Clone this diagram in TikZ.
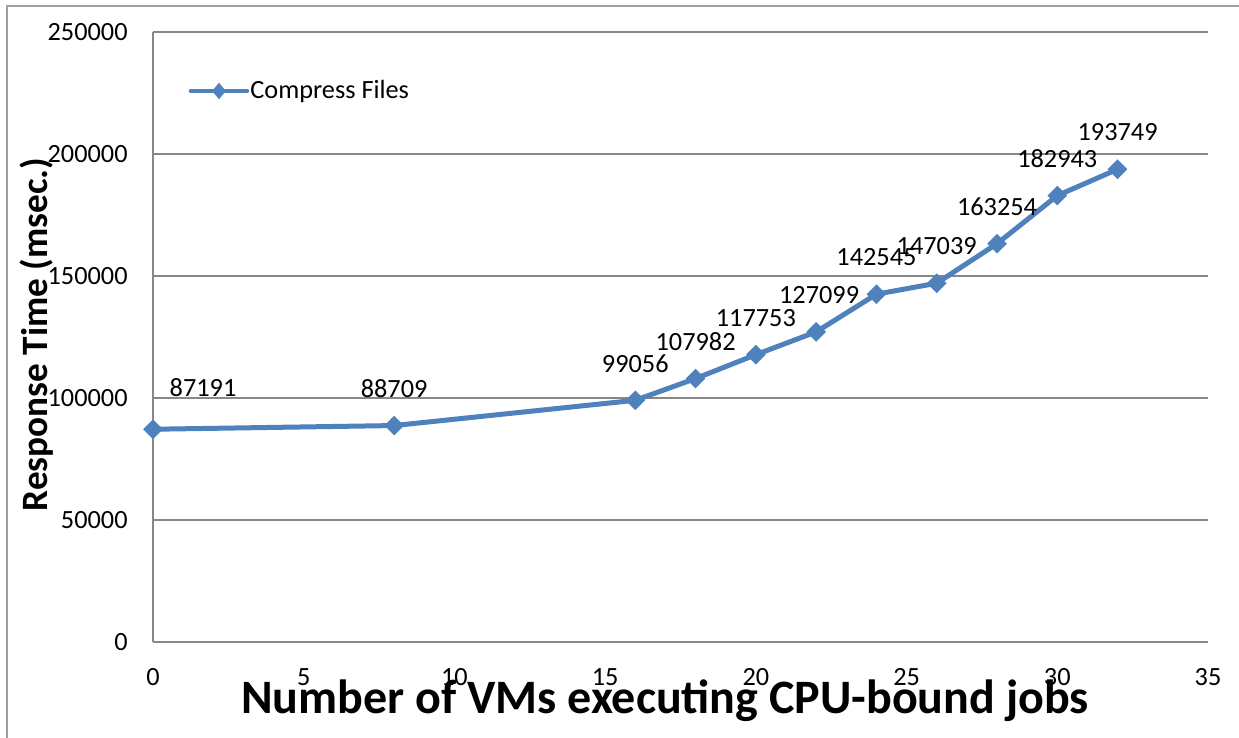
\documentclass[tikz,border=0pt]{standalone}
\usepackage{fontspec}
\setmainfont{Carlito}
\usetikzlibrary{shapes.geometric}
\definecolor{series}{HTML}{4F81BD}
\definecolor{gridgray}{HTML}{878787}
\tikzset{
  grid line/.style={draw=gridgray, line width=0.65pt},
  frame line/.style={draw=gridgray!80, line width=0.6pt},
  series line/.style={draw=series, line width=2.5pt, line join=round},
  marker/.style={diamond, fill=series, draw=none, inner sep=0pt,
    minimum width=10pt, minimum height=10pt},
  small marker/.style={diamond, fill=series, draw=none, inner sep=0pt,
    minimum width=7pt, minimum height=8.4pt},
  num/.style={inner sep=0pt, font=\fontsize{13.15}{15}\selectfont},
  val/.style={num, yshift=18.5pt},
}
% data to pixel coordinates: x in VMs, v in thousands of msec
\newcommand{\pt}[3]{\coordinate (#1) at ({153+#2*30.143},{642-#3*2.44});}
\begin{document}
\begin{tikzpicture}[x=0.5pt, y=-0.5pt]
\useasboundingbox (0,0) rectangle (1239,738);
\fill[white] (0,0) rectangle (1239,738);

% outer chart frame (cut at the right and bottom)
\coordinate (fb) at (7,745);
\coordinate (fc) at (7,6);
\coordinate (fr) at (1245,6);
\draw[frame line] (fb) -- (fc) -- (fr);

% horizontal grid lines and value axis labels
\foreach \v/\lab in {0/0,50/50000,100/100000,150/150000,200/200000,250/250000}{
  \coordinate (gl\v) at (153,{642-\v*2.44});
  \coordinate (gr\v) at (1208,{642-\v*2.44});
  \draw[grid line] (gl\v) -- (gr\v);
  \node[num, anchor=east] (yl\v) at (128,{642-\v*2.44}) {\lab};
}
% value axis line
\coordinate (ax0) at (153,642);
\coordinate (ax1) at (153,32);
\draw[grid line] (ax0) -- (ax1);

% category axis labels
\foreach \x in {0,5,...,35}{
  \node[num] (xl\x) at ({153+\x*30.143},677) {\x};
}

% data points
\pt{p0}{0}{87.191}
\pt{p1}{8}{88.709}
\pt{p2}{16}{99.056}
\pt{p3}{18}{107.982}
\pt{p4}{20}{117.753}
\pt{p5}{22}{127.099}
\pt{p6}{24}{142.545}
\pt{p7}{26}{147.039}
\pt{p8}{28}{163.254}
\pt{p9}{30}{182.943}
\pt{p10}{32}{193.749}

\draw[series line] (p0) -- (p1) -- (p2) -- (p3) -- (p4) -- (p5) -- (p6)
  -- (p7) -- (p8) -- (p9) -- (p10);
\foreach \i in {0,...,10}{ \node[marker] (m\i) at (p\i) {}; }

% data labels
\node[val, xshift=25pt, yshift=2.5pt] (l0) at (p0) {87191};
\node[val] (l1) at (p1) {88709};
\node[val] (l2) at (p2) {99056};
\node[val] (l3) at (p3) {107982};
\node[val] (l4) at (p4) {117753};
\node[val, xshift=1.5pt] (l5) at (p5) {127099};
\node[val] (l6) at (p6) {142545};
\node[val] (l7) at (p7) {147039};
\node[val] (l8) at (p8) {163254};
\node[val] (l9) at (p9) {182943};
\node[val] (l10) at (p10) {193749};

% legend
\coordinate (lg0) at (191,91);
\coordinate (lg1) at (247,91);
\draw[draw=series, line width=2.3pt, line cap=round] (lg0) -- (lg1);
\node[small marker] (lgm) at (219,91) {};
\node[num, anchor=west] (lgt) at (250,91) {Compress Files};

% axis titles
\node[inner sep=0pt, anchor=base, font=\fontsize{24}{28}\selectfont\bfseries]
  (xt) at (665,713) {Number of VMs executing CPU-bound jobs};
\node[inner sep=0pt, anchor=base, rotate=90, font=\fontsize{18.6}{22}\selectfont\bfseries]
  (yt) at (47,334.5) {Response Time (msec.)};
\end{tikzpicture}
\end{document}
